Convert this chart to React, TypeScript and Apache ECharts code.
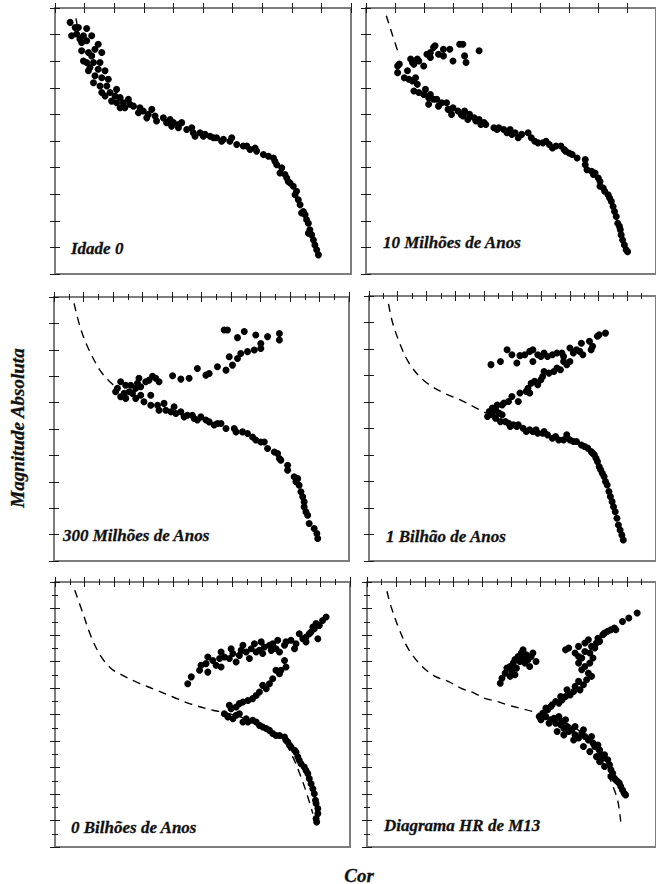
import React, { useEffect, useRef } from "react";
import * as echarts from "echarts";

// ---- data (x = colour units 0..10, y = magnitude units 0..10, top = bright) ----
const panelTitles = [
  "Idade 0",
  "10 Milhões de Anos",
  "300 Milhões de Anos",
  "1 Bilhão de Anos",
  "0 Bilhões de Anos",
  "Diagrama HR de M13",
];

const p1Track = [[0.71, 0.39], [0.76, 0.72]];
const p1Stars = [
  [0.51,0.54],[0.68,0.73],[0.79,0.73],[1.07,0.77],[0.56,1.04],[0.73,0.98],[0.96,1.04],[1.24,1.04],
  [0.90,1.30],[0.84,1.17],[1.07,1.23],[1.46,1.36],[1.35,1.55],[0.90,1.61],[1.13,1.67],[1.58,1.67],
  [1.24,1.80],[0.96,1.99],[1.07,2.05],[1.30,2.05],[1.52,2.05],[1.18,2.24],[1.46,2.30],[1.69,2.36],
  [1.13,2.36],[1.35,2.55],[1.58,2.62],[1.80,2.68],[1.30,2.81],[1.52,2.93],[1.75,2.93],[2.08,3.06],
  [1.58,3.18],[1.86,3.18],[1.69,3.31],[2.03,3.31],[2.20,3.37],[1.91,3.50],[2.08,3.56],[2.31,3.56],
  [2.48,3.43],[2.53,3.62],[2.20,3.75],[2.36,3.75],[2.65,3.69],[2.87,3.75],[2.98,3.87],[2.82,3.94],
  [3.27,3.81],[3.15,4.00],[3.38,4.06],[3.10,4.13],[3.43,4.25],[3.66,4.13],[3.89,4.19],[3.77,4.31],
  [4.00,4.31],[3.94,4.44],[4.17,4.38],[4.28,4.31],[4.17,4.50],[4.45,4.57],[4.62,4.50],[4.67,4.69],
  [4.73,4.82],[4.90,4.69],[5.07,4.75],[5.01,4.82],[5.24,4.82],[5.35,4.88],[5.46,4.88],[5.69,4.94],
  [5.63,5.01],[5.97,4.88],[5.91,5.01],[6.14,5.13],[6.36,5.19],[6.48,5.19],[6.59,5.32],[6.76,5.26],
  [6.81,5.38],[7.04,5.51],[7.21,5.57],[7.38,5.64],[7.43,5.76],[7.49,5.89],[7.66,6.01],[7.60,6.20],
  [7.77,6.26],[7.83,6.39],[7.88,6.52],[7.94,6.58],[8.05,6.70],[8.16,6.89],[8.11,7.02],[8.22,7.21],
  [8.28,7.40],[8.39,7.65],[8.45,7.77],[8.33,7.71],[8.50,7.96],[8.56,8.09],[8.61,8.34],[8.56,8.47],
  [8.67,8.53],[8.73,8.72],[8.78,8.91],[8.84,9.09],[8.90,9.28],
];

const p2Track = [[0.70, 0.29], [0.92, 1.04], [1.15, 1.80]];
const p2Stars = [
  [1.09,2.18],[1.15,2.11],[1.54,1.92],[1.65,2.11],[1.82,1.99],[1.99,2.18],[2.10,1.74],[2.22,1.86],
  [2.33,1.48],[2.38,1.42],[2.50,1.74],[2.67,1.55],[2.67,1.80],[2.89,1.55],[3.00,1.99],[3.23,1.36],
  [3.34,1.36],[3.40,1.80],[3.45,2.05],[3.90,1.61],[1.60,2.05],[1.77,1.92],[2.22,1.67],
  [1.09,2.43],[1.32,2.62],[1.43,2.36],[1.48,2.68],[1.71,2.62],[1.77,2.87],[1.60,2.74],[1.65,3.12],
  [1.82,3.18],[1.99,3.25],[2.05,3.06],[2.16,3.37],[2.22,3.25],[2.16,3.62],[2.33,3.43],[2.44,3.43],
  [2.50,3.69],[2.61,3.56],[2.78,3.56],[2.83,3.81],[2.95,4.00],[3.00,3.75],[3.17,3.87],[3.28,4.00],
  [3.40,3.87],[3.34,4.06],[3.51,4.19],[3.57,4.00],[3.73,4.13],[3.79,4.25],[3.90,4.19],[3.96,4.38],
  [4.07,4.31],[4.13,4.38],[4.41,4.50],[4.52,4.57],[4.58,4.50],[4.75,4.57],[4.86,4.69],[4.97,4.57],
  [5.03,4.75],[5.14,4.69],[5.25,4.88],[5.37,4.75],[5.59,4.69],[5.70,4.88],[5.82,5.01],[5.93,5.07],
  [6.10,5.07],[6.21,5.01],[6.32,5.13],[6.43,5.26],[6.55,5.19],[6.72,5.19],[6.83,5.32],[6.88,5.38],
  [7.00,5.45],[7.11,5.51],[7.28,5.64],[7.56,5.70],[7.56,5.89],[7.62,6.08],[7.78,6.14],[7.84,6.26],
  [7.90,6.20],[8.01,6.39],[8.07,6.52],[8.07,6.70],[8.18,6.77],[8.23,6.89],[8.35,7.02],[8.40,7.14],
  [8.46,7.27],[8.52,7.46],[8.57,7.65],[8.63,7.84],[8.68,8.09],[8.74,8.21],[8.77,8.34],[8.80,8.53],
  [8.85,8.72],[8.91,8.91],[8.97,9.09],[9.02,9.16],
];

const p3Track = [[0.68, 0.24], [0.90, 1.19], [1.19, 2.01], [1.58, 2.81], [1.92, 3.24], [2.09, 3.40]];
const p3Stars = [
  [5.77,1.25],[5.88,1.25],[6.22,1.54],[6.45,1.31],[6.84,1.44],[7.24,1.50],[7.64,1.38],[7.64,1.63],
  [7.01,1.76],[7.01,1.95],[6.79,2.01],[6.56,2.07],[6.33,2.14],[6.22,2.33],[5.94,2.26],[6.05,2.58],
  [5.83,2.77],[5.54,2.64],[5.26,2.90],[5.15,2.96],[4.86,2.71],[4.58,3.08],[4.30,3.11],[4.02,2.98],
  [3.56,3.21],[3.45,3.08],[3.34,3.00],[3.22,3.15],[3.11,3.21],[2.88,3.08],[2.83,3.27],[2.94,3.40],
  [2.77,3.46],[2.60,3.34],[2.55,3.59],[2.38,3.65],[2.26,3.21],[2.43,3.34],[2.15,3.46],[2.09,3.59],
  [2.26,3.78],[2.43,3.84],[2.66,3.65],[2.77,3.84],[2.94,3.72],[3.05,3.97],[3.28,3.72],[3.28,4.10],
  [3.51,4.10],[3.73,4.03],[3.56,4.29],[3.79,4.29],[3.96,4.35],[4.07,4.16],[4.13,4.41],[4.30,4.35],
  [4.41,4.54],[4.52,4.48],[4.69,4.48],[4.75,4.60],[4.86,4.66],[4.98,4.54],[5.15,4.66],[5.26,4.73],
  [5.43,4.85],[5.54,4.79],[5.66,4.79],[5.83,4.98],[6.11,4.98],[6.17,5.11],[6.39,5.11],[6.56,5.17],
  [6.73,5.30],[6.84,5.42],[7.01,5.49],[7.13,5.49],[7.24,5.74],[7.47,5.87],[7.58,5.93],[7.64,6.12],
  [7.69,6.18],[7.92,6.37],[7.92,6.56],[8.14,6.81],[8.26,6.88],[8.20,7.00],[8.31,7.13],[8.37,7.38],
  [8.43,7.57],[8.48,7.76],[8.48,7.95],[8.54,8.14],[8.60,8.27],[8.65,8.58],[8.82,8.77],[8.91,8.96],
  [8.94,9.15],
];

const p4Track = [[0.68, 0.30], [0.81, 0.96], [1.09, 1.84], [1.43, 2.59], [1.94, 3.22], [2.61, 3.66], [3.18, 3.92], [3.85, 4.29], [4.08, 4.42]];
const p4Stars = [
  [4.25,2.59],[4.58,2.47],[4.81,2.03],[4.98,2.22],[5.15,2.53],[5.26,2.25],[5.43,2.22],[5.60,2.09],
  [5.71,2.03],[5.71,2.47],[5.88,2.22],[5.99,2.28],[6.10,2.15],[6.22,2.28],[6.39,2.22],[6.55,2.15],
  [6.72,2.15],[6.78,2.28],[7.00,1.96],[7.12,2.15],[7.23,2.03],[7.34,2.09],[7.45,2.22],[7.40,1.78],
  [7.68,1.71],[7.74,2.03],[7.79,1.90],[7.96,1.52],[8.24,1.40],[8.02,1.46],
  [7.00,2.47],[6.89,2.59],[6.78,2.47],[6.67,2.78],[6.55,2.72],[6.44,2.85],[6.27,2.91],[6.10,2.85],
  [6.05,3.04],[5.99,3.16],[5.88,3.35],[5.77,3.22],[5.65,3.29],[5.54,3.48],[5.48,3.60],[5.60,3.66],
  [5.26,3.66],[5.20,3.98],[4.98,3.79],[4.86,3.98],[4.70,4.04],[4.64,4.11],[4.47,4.11],[4.41,4.29],
  [4.30,4.23],[4.19,4.36],[4.13,4.55],[4.30,4.48],[4.53,4.42],[4.64,4.48],
  [4.41,4.61],[4.58,4.74],[4.75,4.74],[4.86,4.80],[4.92,4.92],[5.03,4.86],[5.15,4.92],[5.20,4.86],
  [5.37,4.99],[5.48,5.11],[5.60,5.05],[5.71,5.11],[5.82,5.05],[5.88,5.18],[6.05,5.18],[6.10,5.11],
  [6.22,5.24],[6.39,5.37],[6.50,5.30],[6.61,5.43],[6.78,5.43],[6.89,5.24],[7.00,5.43],[7.12,5.49],
  [7.23,5.49],[7.40,5.62],[7.51,5.68],[7.62,5.74],[7.74,5.87],[7.79,5.93],[7.85,5.99],[7.91,6.12],
  [7.96,6.25],[8.02,6.44],[8.07,6.56],[8.13,6.69],[8.19,6.81],[8.24,7.00],[8.30,7.13],[8.36,7.38],
  [8.41,7.57],[8.47,7.76],[8.52,7.95],[8.58,8.14],[8.64,8.39],[8.69,8.64],[8.75,8.83],[8.81,9.02],
  [8.86,9.21],
];

const p5Track = [
  [0.67,0.31],[0.95,1.19],[1.23,2.08],[1.57,2.83],[1.91,3.27],[2.19,3.46],[2.75,3.77],[3.32,4.03],
  [4.00,4.34],[4.56,4.59],[5.35,4.84],[5.69,4.91],[6.48,5.16],[7.16,5.47],[7.72,5.91],[8.06,6.60],
  [8.34,7.36],[8.57,8.11],[8.74,8.74],
];
const p5Stars = [
  [4.50,3.84],[4.62,3.58],[4.90,3.33],[4.95,3.14],[5.12,3.08],[5.18,2.83],[5.18,3.40],[5.35,2.96],
  [5.46,3.14],[5.58,2.89],[5.63,3.21],[5.63,2.64],[5.74,2.83],[5.91,2.89],[5.97,2.52],[6.03,2.70],
  [6.14,3.02],[6.25,2.77],[6.31,2.58],[6.37,2.39],[6.48,2.64],[6.59,2.89],[6.65,2.52],[6.76,2.33],
  [6.82,2.64],[6.93,2.58],[6.99,2.26],[7.04,2.70],[7.10,2.45],[7.27,2.39],[7.33,2.58],[7.38,2.33],
  [7.49,2.52],[7.55,2.20],[7.61,2.64],[7.78,2.39],[7.83,2.26],[8.00,2.20],[8.12,2.52],[8.17,2.33],
  [8.28,1.95],[8.40,2.14],[8.51,2.08],[8.62,1.95],[8.68,1.89],[8.79,1.76],[8.85,1.57],[8.96,1.64],
  [9.07,1.45],[9.19,1.32],[8.91,2.14],[8.51,2.26],[8.74,1.70],
  [7.78,2.96],[7.83,3.21],[7.66,3.33],[7.61,3.46],[7.49,3.33],[7.38,3.65],[7.27,3.84],[7.16,4.03],
  [7.04,3.90],[6.93,4.15],[6.82,4.28],[6.70,4.40],[6.54,4.47],[6.37,4.53],[6.25,4.59],[6.14,4.72],
  [5.97,4.78],[5.91,4.65],
  [5.74,4.97],[5.86,5.09],[6.03,5.16],[6.14,5.03],[6.25,4.97],[6.37,5.28],[6.48,5.16],[6.54,5.28],
  [6.70,5.22],[6.82,5.28],[6.93,5.41],[7.04,5.47],[7.16,5.53],[7.27,5.60],[7.38,5.72],[7.49,5.79],
  [7.61,5.79],[7.78,5.85],[7.83,5.97],[7.89,6.04],[7.95,6.16],[8.00,6.23],[8.12,6.35],[8.17,6.42],
  [8.23,6.60],[8.28,6.73],[8.34,6.86],[8.45,6.98],[8.51,7.11],[8.57,7.23],[8.62,7.42],[8.68,7.61],
  [8.74,7.80],[8.79,7.99],[8.83,8.24],[8.85,8.36],[8.91,8.55],[8.91,8.74],[8.85,8.93],[8.87,9.06],
];

const p6Track = [
  [0.69,0.35],[0.83,0.92],[1.12,1.80],[1.45,2.56],[1.91,3.19],[2.36,3.56],[2.81,3.75],[3.26,4.01],
  [3.71,4.19],[4.05,4.38],[4.50,4.51],[4.84,4.63],[5.29,4.76],[5.74,4.89],[6.41,5.14],[7.09,5.45],
  [7.66,5.89],[8.05,6.59],[8.33,7.22],[8.56,7.85],[8.67,8.22],[8.73,8.60],[8.78,9.04],
];
const p6Stars = [
  [4.61,3.82],[4.67,3.63],[4.78,3.44],[4.84,3.25],[4.95,3.19],[5.01,3.38],[5.06,3.06],[5.12,2.93],
  [5.17,3.25],[5.23,2.81],[5.29,3.00],[5.34,2.68],[5.40,2.56],[5.40,2.87],[5.46,3.06],[5.51,2.75],
  [5.57,2.93],[5.63,3.19],[5.68,2.81],[5.74,2.68],[5.85,3.00],[5.12,3.50],[4.95,3.56],
  [6.87,2.56],[6.98,2.49],[7.20,2.68],[7.32,2.43],[7.32,2.81],[7.43,2.87],[7.54,2.30],[7.54,2.62],
  [7.66,2.18],[7.71,2.68],[7.77,2.43],[7.82,2.87],[7.88,2.49],[7.94,2.30],[7.99,2.12],[8.05,2.24],
  [8.16,1.99],[8.22,1.93],[8.33,1.86],[8.44,1.80],[8.56,1.74],[8.61,1.80],[8.84,1.49],[9.06,1.36],
  [9.35,1.17],
  [7.32,3.06],[7.43,3.31],[7.54,3.19],[7.66,3.44],[7.71,3.06],[7.77,3.56],[7.60,3.69],[7.49,3.88],
  [7.32,3.75],[7.20,3.94],[7.37,4.07],[7.15,4.13],[7.03,4.26],[6.92,4.07],[6.87,4.32],[6.75,4.45],
  [6.70,4.32],[6.64,4.57],[6.53,4.51],[6.41,4.63],[6.36,4.70],[6.25,4.82],[6.19,4.76],[6.08,4.95],
  [5.96,5.08],[6.02,5.20],
  [6.19,5.08],[6.36,5.20],[6.30,5.33],[6.47,5.14],[6.53,5.33],[6.64,5.08],[6.70,5.39],[6.75,5.26],
  [6.81,5.52],[6.87,5.20],[6.92,5.45],[6.98,5.64],[7.09,5.58],[7.20,5.45],[7.20,5.77],[7.32,5.89],
  [7.43,5.71],[7.49,5.58],[7.54,5.83],[7.66,5.96],[7.77,5.83],[7.82,6.08],[7.88,6.21],[7.99,6.15],
  [8.05,6.34],[8.11,6.52],[8.16,6.65],[8.22,6.52],[8.33,6.71],[8.39,6.90],[8.44,7.09],[8.50,7.22],
  [8.56,7.41],[8.61,7.47],[8.67,7.53],[8.73,7.59],[8.78,7.72],[8.84,7.85],[8.90,7.97],[8.95,8.04],
  [6.58,5.64],[6.81,5.77],[7.15,5.96],[7.49,6.21],[7.71,6.40],[7.94,6.59],[8.05,6.78],[8.22,6.96],
  [8.44,7.34],
];

const axisMin = 0;
const axisMax = 10;
const axisInterval = 1;

const stars = [p1Stars, p2Stars, p3Stars, p4Stars, p5Stars, p6Stars];
const tracks = [p1Track, p2Track, p3Track, p4Track, p5Track, p6Track];

// ---- layout ----
const layout = [
  { left: 55, top: 8, width: 296, height: 266, xMinor: false, yMinor: false, tx: 71, ty: 248 },
  { left: 366, top: 8, width: 296, height: 266, xMinor: false, yMinor: false, tx: 383, ty: 242 },
  { left: 54, top: 297, width: 295, height: 264, xMinor: true, yMinor: false, tx: 63, ty: 535 },
  { left: 369, top: 296, width: 296, height: 265, xMinor: true, yMinor: false, tx: 386, ty: 536 },
  { left: 55, top: 582, width: 295, height: 265, xMinor: true, yMinor: true, tx: 71, ty: 827 },
  { left: 367, top: 582, width: 296, height: 265, xMinor: true, yMinor: true, tx: 384, ty: 825 },
];

const FAMILY = "Liberation Serif";

function buildOption() {
  const grid: any[] = [];
  const xAxis: any[] = [];
  const yAxis: any[] = [];
  const series: any[] = [];
  const tick = { show: true, inside: true, length: 5, lineStyle: { color: "#1a1a1a", width: 1 } };
  layout.forEach((p, i) => {
    grid.push({
      left: p.left, top: p.top, width: p.width, height: p.height,
      show: true, borderColor: "#7d7d7d", borderWidth: 2, backgroundColor: "transparent",
    });
    ["bottom", "top"].forEach((pos) => {
      xAxis.push({
        gridIndex: i, type: "value", position: pos, min: axisMin, max: axisMax, interval: axisInterval,
        axisLine: { show: false }, axisTick: tick, axisLabel: { show: false }, splitLine: { show: false },
        minorTick: { show: p.xMinor, splitNumber: 2, length: 3, lineStyle: { color: "#1a1a1a", width: 1 } },
      });
    });
    ["left", "right"].forEach((pos) => {
      yAxis.push({
        gridIndex: i, type: "value", position: pos, inverse: true, min: axisMin, max: axisMax, interval: axisInterval,
        axisLine: { show: false }, axisTick: tick, axisLabel: { show: false }, splitLine: { show: false },
        minorTick: { show: p.yMinor, splitNumber: 2, length: 3, lineStyle: { color: "#1a1a1a", width: 1 } },
      });
    });
    series.push({
      type: "line", xAxisIndex: 2 * i, yAxisIndex: 2 * i, data: tracks[i], smooth: 0.35,
      showSymbol: false, symbol: "none", silent: true, z: 1,
      lineStyle: { color: "#000", width: 1.4, type: [8, 6] },
    });
    series.push({
      type: "scatter", xAxisIndex: 2 * i, yAxisIndex: 2 * i, data: stars[i], symbolSize: 7,
      silent: true, z: 2, itemStyle: { color: "#000", opacity: 1 },
    });
  });

  const graphic: any[] = layout.map((p, i) => ({
    type: "text", x: p.tx, y: p.ty, z: 10,
    style: {
      text: panelTitles[i], fontFamily: FAMILY, fontStyle: "italic", fontWeight: "bold", fontSize: 17,
      fill: "#111", align: "left", verticalAlign: "middle",
      stroke: "#111", lineWidth: 0.3,
    },
  }));
  graphic.push({
    type: "text", x: 17, y: 428, rotation: Math.PI / 2, z: 10,
    style: {
      text: "Magnitude Absoluta", fontFamily: FAMILY, fontStyle: "italic", fontWeight: "bold", fontSize: 19,
      fill: "#111", align: "center", verticalAlign: "middle", stroke: "#111", lineWidth: 0.3,
    },
  });
  graphic.push({
    type: "text", x: 359, y: 875, z: 10,
    style: {
      text: "Cor", fontFamily: FAMILY, fontStyle: "italic", fontWeight: "bold", fontSize: 19,
      fill: "#111", align: "center", verticalAlign: "middle", stroke: "#111", lineWidth: 0.3,
    },
  });

  return { animation: false, backgroundColor: "#fff", grid, xAxis, yAxis, series, graphic };
}

export default function App() {
  const ref = useRef<HTMLDivElement>(null);
  useEffect(() => {
    if (!ref.current) return;
    const chart = echarts.init(ref.current, undefined, { renderer: "svg" });
    chart.setOption(buildOption() as any);
    return () => chart.dispose();
  }, []);
  return (
    <div
      ref={ref}
      style={{ position: "absolute", left: 0, top: 0, width: 656, height: 884, background: "#fff" }}
    />
  );
}
